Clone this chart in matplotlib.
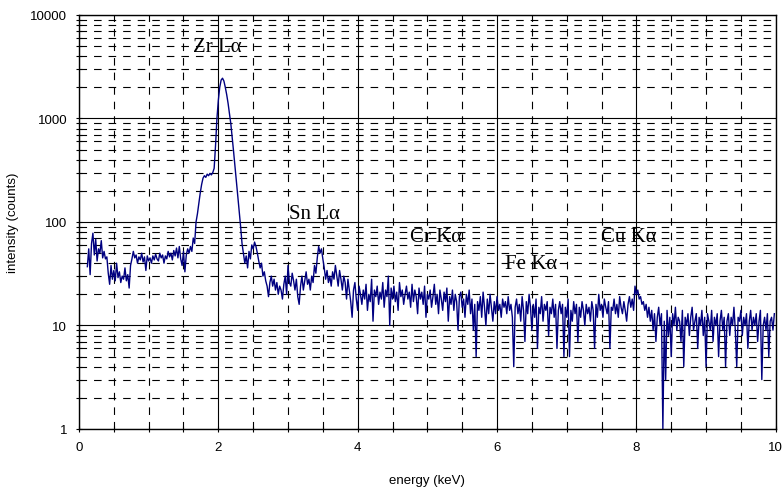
import numpy as np
import matplotlib
matplotlib.use("Agg")
import matplotlib.pyplot as plt
from matplotlib.ticker import MultipleLocator, LogLocator, NullFormatter, FixedLocator

# ---- data ----
start_energy = 0.12   # keV, first channel
channel_width = 0.02  # keV

counts = [
    37, 55, 31, 62, 78, 48, 68, 42, 55, 50,
    66, 45, 52, 44, 46, 32, 25, 38, 28, 34,
    27, 40, 29, 33, 26, 30, 28, 36, 27, 31,
    23, 38, 44, 52, 45, 48, 40, 46, 43, 50,
    41, 46, 34, 47, 42, 45, 40, 47, 43, 49,
    44, 42, 50, 45, 48, 40, 47, 44, 52, 46,
    50, 43, 53, 47, 56, 45, 58, 44, 38, 52,
    33, 48, 55, 50, 58, 52, 70, 62, 100, 120,
    150, 190, 230, 265, 280, 270, 290, 280, 295, 285,
    300, 330, 550, 1000, 1500, 2000, 2350, 2450, 2300, 2000,
    1700, 1400, 1100, 880, 650, 470, 340, 240, 175, 125,
    90, 62, 50, 40, 47, 36, 52, 44, 60, 55,
    64, 58, 50, 42, 36, 40, 30, 33, 27, 24,
    19, 26, 30, 24, 28, 22, 26, 20, 24, 22,
    18, 25, 30, 20, 38, 26, 24, 32, 27, 22,
    28, 19, 16, 24, 30, 22, 27, 33, 25, 28,
    22, 30, 26, 38, 32, 45, 58, 50, 55, 44,
    36, 28, 34, 26, 30, 24, 33, 28, 38, 30,
    24, 34, 28, 22, 30, 26, 18, 28, 22, 17,
    12, 22, 26, 18, 14, 24, 20, 16, 22, 18,
    25, 14, 20, 17, 28, 11, 22, 19, 24, 16,
    21, 18, 26, 15, 22, 19, 30, 10, 23, 18,
    24, 17, 21, 14, 26, 19, 22, 16, 20, 24,
    18, 21, 15, 25, 17, 22, 19, 13, 23, 18,
    21, 16, 24, 12, 20, 18, 22, 15, 19, 25,
    16, 20, 13, 22, 18, 14, 21, 17, 23, 11,
    19, 16, 22, 14, 20, 17, 9, 19, 21, 15,
    18, 12, 20, 16, 22, 13, 18, 9, 16, 5,
    17, 14, 19, 12, 21, 15, 10, 18, 13, 20,
    15, 11, 17, 13, 19, 14, 16, 12, 18, 15,
    17, 13, 19, 14, 16, 12, 4, 15, 18, 13,
    16, 11, 19, 14, 7, 17, 13, 20, 15, 9,
    16, 12, 18, 6, 15, 13, 19, 11, 16, 14,
    17, 8, 15, 13, 18, 12, 16, 6, 14, 17,
    13, 16, 5, 15, 12, 18, 5, 14, 11, 17,
    13, 16, 7, 15, 12, 17, 14, 10, 16, 13,
    15, 11, 17, 14, 6, 16, 12, 20, 14, 16,
    12, 18, 15, 13, 17, 6, 15, 14, 18, 13,
    16, 12, 19, 15, 13, 17, 14, 11, 16, 19,
    15, 18, 14, 24, 20, 22, 18, 19, 16, 17,
    14, 16, 12, 15, 11, 14, 9, 13, 7, 12,
    15, 10, 13, 1, 11, 3, 14, 8, 12, 5,
    13, 10, 15, 9, 12, 11, 7, 14, 4, 12,
    10, 13, 8, 12, 15, 9, 11, 13, 6, 12,
    10, 14, 8, 12, 4, 13, 11, 9, 14, 7,
    12, 10, 13, 5, 11, 14, 9, 12, 4, 11,
    13, 8, 12, 10, 15, 9, 4, 12, 11, 14,
    8, 12, 10, 13, 6, 11, 14, 9, 12, 10,
    13, 7, 11, 14, 3, 10, 12, 9, 13, 5,
    11, 12, 9, 13,
]

peak_labels = ["Zr L\u03b1", "Sn L\u03b1", "Cr K\u03b1", "Fe K\u03b1", "Cu K\u03b1"]
label_x = [1.64, 3.01, 4.75, 6.11, 7.49]
label_y = [5000, 122, 72, 40, 72]

x_ticks = [0, 2, 4, 6, 8, 10]
y_ticks = [1, 10, 100, 1000, 10000]

energy = start_energy + channel_width * np.arange(len(counts))

# ---- figure ----
fig = plt.figure(figsize=(7.82, 4.89), dpi=100)
ax = fig.add_axes([0.101, 0.1207, 0.891, 0.8466])

ax.set_xlim(0, 10)
ax.set_yscale("log")
ax.set_ylim(1, 10000)

ax.xaxis.set_major_locator(FixedLocator(x_ticks))
ax.xaxis.set_minor_locator(MultipleLocator(0.5))
ax.yaxis.set_major_locator(FixedLocator(y_ticks))
ax.yaxis.set_minor_locator(LogLocator(base=10, subs=np.arange(2, 10)))
ax.yaxis.set_minor_formatter(NullFormatter())
ax.set_yticklabels([str(v) for v in y_ticks])
ax.set_xticklabels([str(v) for v in x_ticks])

ax.grid(which="major", color="black", linestyle="-", linewidth=0.8)
ax.grid(which="minor", color="black", linestyle=(0, (6.8, 6.3)), linewidth=0.8)
ax.set_axisbelow(True)

for s in ax.spines.values():
    s.set_linewidth(1.0)
    s.set_color("black")

ax.tick_params(which="major", direction="inout", length=5, width=0.8,
               labelsize=9.5, colors="black", pad=6)
ax.tick_params(which="minor", direction="inout", length=4, width=0.8)
for lab in ax.get_xticklabels() + ax.get_yticklabels():
    lab.set_family("Liberation Sans")

ax.plot(energy, counts, color="#000080", linewidth=1.0)

for t, xx, yy in zip(peak_labels, label_x, label_y):
    ax.text(xx, yy, t, family="Liberation Serif", fontsize=15,
            va="center", ha="left", color="black")

ax.set_xlabel("energy (keV)", family="Liberation Sans", fontsize=9.5, labelpad=15)
ax.set_ylabel("intensity (counts)", family="Liberation Sans", fontsize=9.5, labelpad=8)

fig.savefig("out.png", dpi=100)
